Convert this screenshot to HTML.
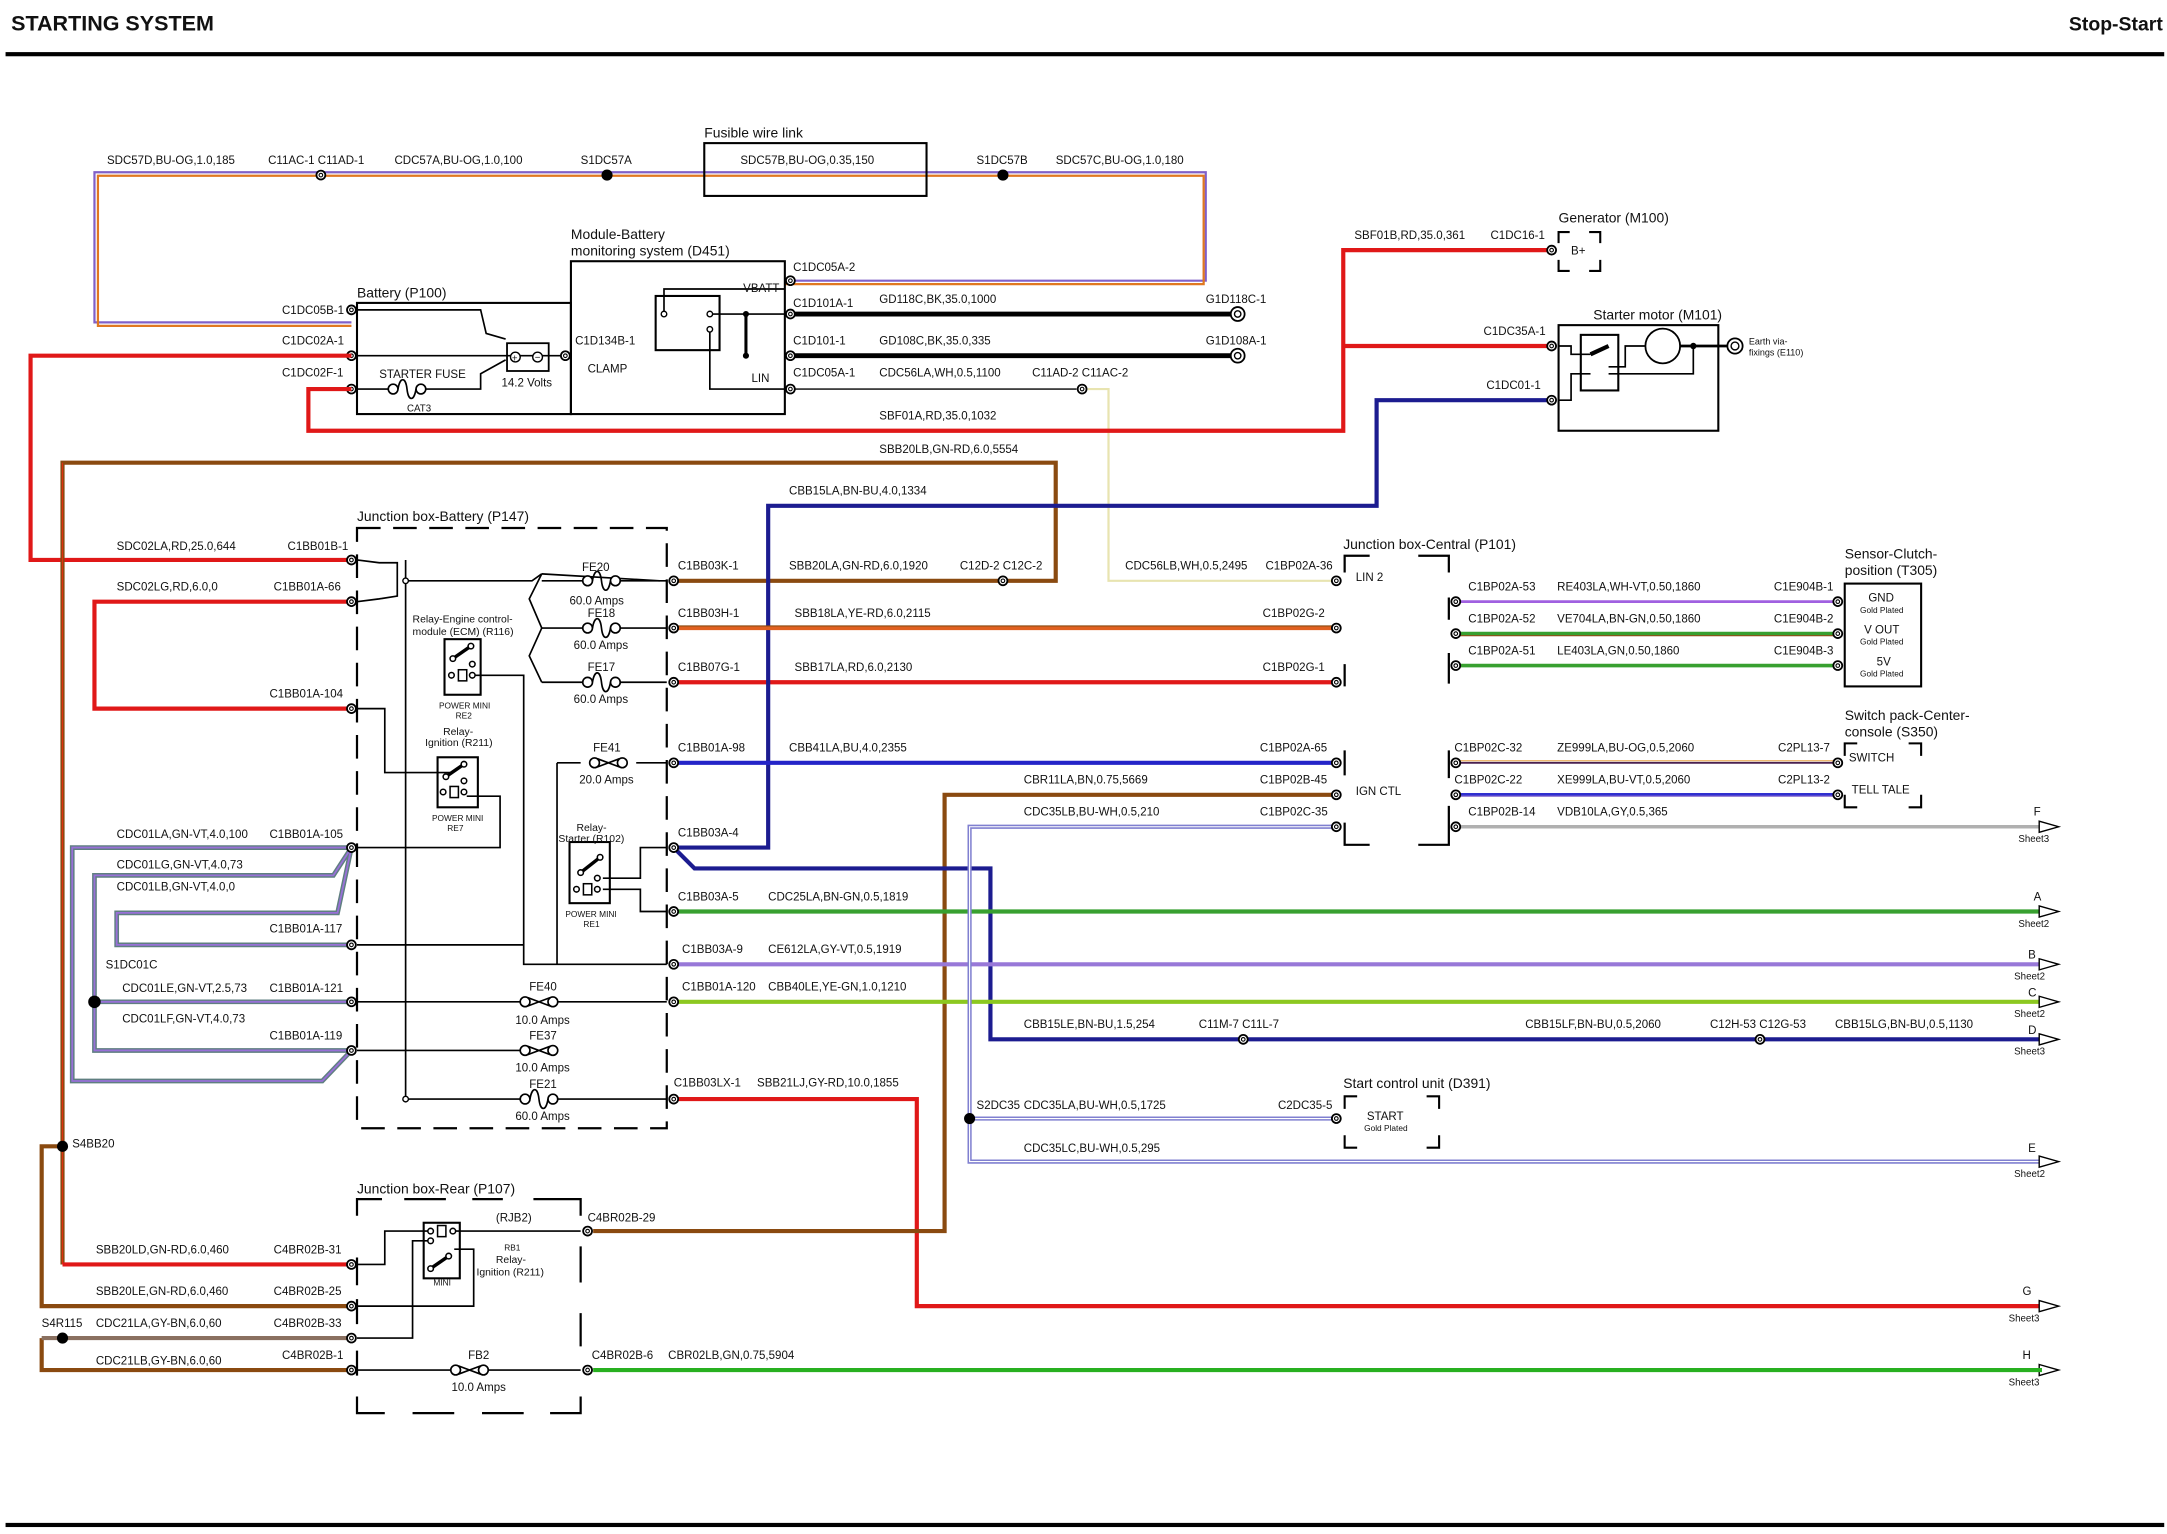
<!DOCTYPE html>
<html><head><meta charset="utf-8"><style>
html,body{margin:0;padding:0;background:#fff}
svg{display:block}
text{font-family:"Liberation Sans",sans-serif;font-size:8.3px;fill:#111}
.s{font-size:6px}
.b{font-size:10.5px}
.ttl{font-size:15.5px;font-weight:bold}
</style></head><body>
<svg width="2167" height="1534" viewBox="0 0 1560 1104" preserveAspectRatio="none" xmlns="http://www.w3.org/2000/svg">
<defs>
<symbol id="p" overflow="visible"><circle cx="0" cy="0" r="3.2" fill="#fff" stroke="#000" stroke-width="1.3"/><circle cx="0" cy="0" r="1.3" fill="none" stroke="#000" stroke-width="0.8"/></symbol>
<symbol id="f" overflow="visible"><g fill="#fff" stroke="#000" stroke-width="1.2"><circle cx="-10" cy="0" r="3.5"/><circle cx="10" cy="0" r="3.5"/><path d="M-6.5,0 C-5,-9 -1,-9 0,0 C1,9 5,9 6.5,0" fill="none"/></g></symbol>
<symbol id="ff" overflow="visible"><g fill="#fff" stroke="#000" stroke-width="1.2"><path d="M-8,-3 L8,3 M-8,3 L8,-3" fill="none"/><circle cx="-10" cy="0" r="3.5"/><circle cx="10" cy="0" r="3.5"/></g></symbol>
<symbol id="ar" overflow="visible"><path d="M0,-4 L14,0 L0,4 Z" fill="#fff" stroke="#000" stroke-width="1"/></symbol>
</defs>
<rect width="1560" height="1104" fill="#fff"/>
<text x="8" y="22" class="ttl">STARTING SYSTEM</text>
<text x="1557" y="22" class="ttl" text-anchor="end" style="font-size:14px">Stop-Start</text>
<rect x="4" y="37.5" width="1554" height="3" fill="#000"/>
<rect x="4" y="1096" width="1554" height="3" fill="#000"/>

<!-- ===== top BU-OG wire ===== -->
<g fill="none" stroke-width="1.6">
<polyline points="253,232 68,232 68,124 868,124 868,202 565,202" stroke="#8060c8"/>
<polyline points="253,234.5 70.5,234.5 70.5,126.5 866.5,126.5 866.5,204.5 565,204.5" stroke="#e07820"/>
</g>
<circle cx="437" cy="126" r="4" fill="#000"/><circle cx="722" cy="126" r="4" fill="#000"/>
<use href="#p" x="231" y="126"/>
<rect x="507" y="103" width="160" height="38" fill="none" stroke="#000" stroke-width="1.5"/>
<text x="507" y="99" class="b" style="font-size:10px">Fusible wire link</text>
<text x="77" y="118">SDC57D,BU-OG,1.0,185</text>
<text x="193" y="118">C11AC-1 C11AD-1</text>
<text x="284" y="118">CDC57A,BU-OG,1.0,100</text>
<text x="418" y="118">S1DC57A</text>
<text x="533" y="118">SDC57B,BU-OG,0.35,150</text>
<text x="703" y="118">S1DC57B</text>
<text x="760" y="118">SDC57C,BU-OG,1.0,180</text>

<!-- ===== battery & module ===== -->
<rect x="257" y="218" width="154" height="80" fill="none" stroke="#000" stroke-width="1.5"/>
<rect x="411" y="188" width="154" height="110" fill="none" stroke="#000" stroke-width="1.5"/>
<text x="257" y="214" class="b" style="font-size:10px">Battery (P100)</text>
<text x="411" y="172" class="b" style="font-size:10px">Module-Battery</text>
<text x="411" y="184" class="b" style="font-size:10px">monitoring system (D451)</text>
<text x="203" y="226">C1DC05B-1</text>
<text x="203" y="248">C1DC02A-1</text>
<text x="203" y="271">C1DC02F-1</text>
<g fill="none" stroke="#000" stroke-width="1.2">
<polyline points="257,223 346,223 350,240 364,244"/>
<line x1="257" y1="256" x2="411" y2="256"/>
<polyline points="257,280 283,280"/><polyline points="303,280 346,280 346,269 364,259"/>
<rect x="365" y="247" width="30" height="20" stroke-width="1.3"/>
<rect x="472" y="213" width="46" height="39" stroke-width="1.5"/>
<polyline points="478,226 478,208 565,208"/>
<polyline points="511,226 565,226"/>
<polyline points="511,237 511,280 565,280"/>
<line x1="537" y1="226" x2="537" y2="256" stroke-width="2.2"/>
</g>
<circle cx="371" cy="257" r="3.5" fill="#fff" stroke="#000"/><circle cx="387" cy="257" r="3.5" fill="#fff" stroke="#000"/>
<text x="368.5" y="260" style="font-size:7px">+</text><text x="385" y="259.5" style="font-size:7px">−</text>
<circle cx="478" cy="226" r="2" fill="#fff" stroke="#000"/><circle cx="511" cy="226" r="2" fill="#fff" stroke="#000"/><circle cx="511" cy="237" r="2" fill="#fff" stroke="#000"/>
<circle cx="537" cy="226" r="2.2" fill="#000"/><circle cx="537" cy="256" r="2.2" fill="#000"/>
<use href="#f" x="293" y="280"/>
<text x="273" y="272">STARTER FUSE</text>
<text x="293" y="296" class="s" style="font-size:7px">CAT3</text>
<text x="361" y="278">14.2 Volts</text>
<text x="414" y="248">C1D134B-1</text>
<text x="423" y="268">CLAMP</text>
<text x="535" y="210">VBATT</text>
<text x="541" y="275">LIN</text>
<use href="#p" x="253" y="223"/><use href="#p" x="253" y="256"/><use href="#p" x="253" y="280"/><use href="#p" x="407" y="256"/>
<text x="571" y="195">C1DC05A-2</text>
<text x="571" y="221">C1D101A-1</text>
<text x="571" y="248">C1D101-1</text>
<text x="571" y="271">C1DC05A-1</text>
<text x="633" y="218">GD118C,BK,35.0,1000</text>
<text x="633" y="248">GD108C,BK,35.0,335</text>
<text x="633" y="271">CDC56LA,WH,0.5,1100</text>
<text x="743" y="271">C11AD-2 C11AC-2</text>
<text x="868" y="218">G1D118C-1</text>
<text x="868" y="248">G1D108A-1</text>
<line x1="565" y1="226" x2="886" y2="226" stroke="#000" stroke-width="3.5"/>
<line x1="565" y1="256" x2="886" y2="256" stroke="#000" stroke-width="3.5"/>
<circle cx="891" cy="226" r="5" fill="#fff" stroke="#000" stroke-width="1.3"/><circle cx="891" cy="226" r="2.3" fill="none" stroke="#000"/>
<circle cx="891" cy="256" r="5" fill="#fff" stroke="#000" stroke-width="1.3"/><circle cx="891" cy="256" r="2.3" fill="none" stroke="#000"/>
<line x1="565" y1="280" x2="775" y2="280" stroke="#000" stroke-width="1"/>
<use href="#p" x="779" y="280"/>
<polyline points="783,280 798,280 798,418 962,418" fill="none" stroke="#e8e4b0" stroke-width="1.6"/>
<use href="#p" x="569" y="202"/><use href="#p" x="569" y="226"/><use href="#p" x="569" y="256"/><use href="#p" x="569" y="280"/>
<text x="633" y="302">SBF01A,RD,35.0,1032</text>
<text x="633" y="326">SBB20LB,GN-RD,6.0,5554</text>

<!-- red wires top -->
<g fill="none" stroke="#e01818" stroke-width="3">
<polyline points="253,256 22,256 22,403 253,403"/>
<polyline points="253,280 222,280 222,310 967,310 967,180 1117,180"/>
<polyline points="967,249 1117,249"/>
<polyline points="253,433 68,433 68,510 253,510"/>
<polyline points="485,491 962,491"/>
<polyline points="485,791 660,791 660,940 1470,940"/>
</g>
<!-- brown -->
<g fill="none" stroke="#8a4a10" stroke-width="3">
<polyline points="45,910 45,333 760,333 760,418 485,418"/>
<polyline points="45,825 30,825 30,940 253,940"/>
<polyline points="253,986 30,986 30,963"/>
<polyline points="427,886 680,886 680,572 962,572"/>
</g>
<line x1="45" y1="333" x2="45" y2="910" stroke="#e03010" stroke-width="0.8"/>
<polyline points="45,910 253,910" fill="none" stroke="#e01818" stroke-width="3"/>
<polyline points="30,963 253,963" fill="none" stroke="#8a7060" stroke-width="3"/>
<circle cx="45" cy="825" r="4" fill="#000"/><circle cx="45" cy="963" r="4" fill="#000"/>
<!-- dark blue CBB15 -->
<g fill="none" stroke="#1c1c90" stroke-width="3">
<polyline points="485,610 553,610 553,364 991,364 991,288 1117,288"/>
<polyline points="485,610 500,625 713,625 713,748 1470,748"/>
</g>
<text x="568" y="356">CBB15LA,BN-BU,4.0,1334</text>

<!-- generator / starter -->
<text x="975" y="172">SBF01B,RD,35.0,361</text>
<text x="1073" y="172">C1DC16-1</text>
<text x="1068" y="241">C1DC35A-1</text>
<text x="1070" y="280">C1DC01-1</text>
<use href="#p" x="1117" y="180"/><use href="#p" x="1117" y="249"/><use href="#p" x="1117" y="288"/>
<path d="M1122,175 v-8 h8 M1144,167 h8 v8 M1152,187 v8 h-8 M1130,195 h-8 v-8" fill="none" stroke="#000" stroke-width="1.5"/>
<text x="1131" y="183">B+</text>
<text x="1122" y="160" class="b" style="font-size:10px">Generator (M100)</text>
<text x="1147" y="230" class="b" style="font-size:10px">Starter motor (M101)</text>
<rect x="1122" y="234" width="115" height="76" fill="none" stroke="#000" stroke-width="1.5"/>
<rect x="1138" y="241" width="27" height="40" fill="none" stroke="#000" stroke-width="1.5"/>
<g fill="none" stroke="#000" stroke-width="1.2">
<polyline points="1122,249 1131,249 1131,255 1145,255"/>
<polyline points="1122,288 1131,288 1131,269 1145,269"/>
<polyline points="1158,264 1170,264 1170,249 1184,249"/>
<polyline points="1158,269 1219,269 1219,249"/>
<line x1="1209" y1="249" x2="1243" y2="249" stroke-width="2"/>
<line x1="1145" y1="255" x2="1158" y2="249" stroke-width="3"/>
<circle cx="1197" cy="249" r="12.5" stroke-width="1.3"/>
</g>
<circle cx="1219" cy="249" r="2.3" fill="#000"/>
<circle cx="1249" cy="249" r="5.5" fill="#fff" stroke="#000" stroke-width="1.3"/><circle cx="1249" cy="249" r="2.8" fill="none" stroke="#000"/>
<text x="1259" y="248" class="s" style="font-size:6.5px">Earth via-</text>
<text x="1259" y="256" class="s" style="font-size:6.5px">fixings (E110)</text>

<!-- ===== Junction box battery ===== -->
<rect x="257" y="380" width="223" height="432" fill="none" stroke="#000" stroke-width="1.6" stroke-dasharray="17,9"/>
<text x="257" y="375" class="b" style="font-size:10px">Junction box-Battery (P147)</text>
<text x="84" y="396">SDC02LA,RD,25.0,644</text><text x="207" y="396">C1BB01B-1</text>
<text x="84" y="425">SDC02LG,RD,6.0,0</text><text x="197" y="425">C1BB01A-66</text>
<text x="194" y="502">C1BB01A-104</text>
<text x="84" y="603">CDC01LA,GN-VT,4.0,100</text><text x="194" y="603">C1BB01A-105</text>
<text x="84" y="625">CDC01LG,GN-VT,4.0,73</text>
<text x="84" y="641">CDC01LB,GN-VT,4.0,0</text>
<text x="194" y="671">C1BB01A-117</text>
<text x="76" y="697">S1DC01C</text>
<text x="88" y="714">CDC01LE,GN-VT,2.5,73</text><text x="194" y="714">C1BB01A-121</text>
<text x="88" y="736">CDC01LF,GN-VT,4.0,73</text>
<text x="194" y="748">C1BB01A-119</text>
<text x="52" y="826">S4BB20</text>
<!-- GN-VT loops -->
<g fill="none" stroke-linejoin="miter">
<g stroke="#5f7f80" stroke-width="3.4">
<polyline points="253,610 52,610 52,778 232,778 253,756"/>
<polyline points="253,610 240,630 68,630 68,756 253,756"/>
<polyline points="253,610 243,657 84,657 84,680 253,680"/>
<line x1="68" y1="721" x2="253" y2="721"/>
</g>
<g stroke="#9870d8" stroke-width="1.3">
<polyline points="253,610 52,610 52,778 232,778 253,756"/>
<polyline points="253,610 240,630 68,630 68,756 253,756"/>
<polyline points="253,610 243,657 84,657 84,680 253,680"/>
<line x1="68" y1="721" x2="253" y2="721"/>
</g>
</g>
<circle cx="68" cy="721" r="4.5" fill="#000"/>
<!-- left pins -->
<use href="#p" x="253" y="403"/><use href="#p" x="253" y="433"/><use href="#p" x="253" y="510"/><use href="#p" x="253" y="610"/><use href="#p" x="253" y="680"/><use href="#p" x="253" y="721"/><use href="#p" x="253" y="756"/>
<!-- internals -->
<g fill="none" stroke="#000" stroke-width="1.2">
<polyline points="257,403 273,405 286,405 286,429 273,431 257,433"/>
<line x1="292" y1="403" x2="292" y2="791"/>
<polyline points="292,418 383,418 390,413"/>
<polyline points="390,413 381,431 390,452 381,472 390,491"/>
<line x1="390" y1="413" x2="475" y2="418"/>
<line x1="390" y1="418" x2="423" y2="418"/><line x1="443" y1="418" x2="480" y2="418"/>
<line x1="390" y1="452" x2="423" y2="452"/><line x1="443" y1="452" x2="480" y2="452"/>
<line x1="390" y1="491" x2="423" y2="491"/><line x1="443" y1="491" x2="480" y2="491"/>
<rect x="320" y="460" width="26" height="40" stroke-width="1.5"/>
<polyline points="340,486 377,486 377,694 480,694"/>
<polyline points="257,510 277,510 277,556 326,556"/>
<rect x="315" y="545" width="29" height="36" stroke-width="1.5"/>
<polyline points="336,573 360,573 360,610 257,610"/>
<line x1="257" y1="680" x2="480" y2="680" stroke="none"/>
<polyline points="257,680 377,680"/>
<line x1="257" y1="721" x2="378" y2="721"/><line x1="398" y1="721" x2="480" y2="721"/>
<polyline points="257,756 378,756"/><line x1="398" y1="756" x2="480" y2="756" stroke="none"/>
<line x1="292" y1="791" x2="378" y2="791"/><line x1="398" y1="791" x2="480" y2="791"/>
<polyline points="401,549 401,792" stroke="none"/>
<polyline points="408,549 401,549 401,720" stroke="none"/>
<line x1="401" y1="549" x2="418" y2="549"/><line x1="458" y1="549" x2="480" y2="549"/>
<polyline points="401,549 401,694" stroke="none"/>
<rect x="410" y="606" width="29" height="44" stroke-width="1.5"/>
<polyline points="434,632 461,632 461,610 480,610"/>
<polyline points="434,640 461,640 461,656 480,656"/>
</g>
<line x1="401" y1="549" x2="401" y2="694" stroke="#000" stroke-width="1.2"/>
<circle cx="292" cy="418" r="2" fill="#fff" stroke="#000"/>
<circle cx="292" cy="791" r="2" fill="#fff" stroke="#000"/>
<!-- relay internals -->
<g stroke="#000" fill="#fff" stroke-width="1.1">
<line x1="326" y1="474" x2="339" y2="465" stroke-width="2.5"/><circle cx="326" cy="474" r="2"/><circle cx="339" cy="465" r="2"/>
<rect x="330" y="482" width="6" height="8"/><circle cx="325" cy="486" r="2"/><circle cx="340" cy="486" r="2"/><circle cx="340" cy="478" r="2"/>
<line x1="321" y1="559" x2="334" y2="550" stroke-width="2.5"/><circle cx="321" cy="559" r="2"/><circle cx="334" cy="550" r="2"/>
<rect x="324" y="566" width="6" height="8"/><circle cx="319" cy="570" r="2"/><circle cx="334" cy="570" r="2"/><circle cx="334" cy="562" r="2"/>
<line x1="418" y1="628" x2="432" y2="617" stroke-width="2.5"/><circle cx="418" cy="628" r="2"/><circle cx="432" cy="617" r="2"/>
<rect x="420" y="636" width="6" height="8"/><circle cx="415" cy="640" r="2"/><circle cx="430" cy="640" r="2"/><circle cx="430" cy="632" r="2"/>
</g>
<use href="#f" x="433" y="418"/><use href="#f" x="433" y="452"/><use href="#f" x="433" y="491"/>
<use href="#ff" x="438" y="549"/>
<use href="#ff" x="388" y="721"/><use href="#ff" x="388" y="756"/><use href="#f" x="388" y="791"/>
<text x="419" y="411">FE20</text><text x="410" y="435">60.0 Amps</text>
<text x="423" y="444">FE18</text><text x="413" y="467">60.0 Amps</text>
<text x="423" y="483">FE17</text><text x="413" y="506">60.0 Amps</text>
<text x="427" y="541">FE41</text><text x="417" y="564">20.0 Amps</text>
<text x="381" y="713">FE40</text><text x="371" y="737">10.0 Amps</text>
<text x="381" y="748">FE37</text><text x="371" y="771">10.0 Amps</text>
<text x="381" y="783">FE21</text><text x="371" y="806">60.0 Amps</text>
<text x="297" y="448" style="font-size:7.5px">Relay-Engine control-</text>
<text x="297" y="457" style="font-size:7.5px">module (ECM) (R116)</text>
<text x="316" y="510" class="s">POWER MINI</text><text x="328" y="517" class="s">RE2</text>
<text x="319" y="529" style="font-size:7.5px">Relay-</text><text x="306" y="537" style="font-size:7.5px">Ignition (R211)</text>
<text x="311" y="591" class="s">POWER MINI</text><text x="322" y="598" class="s">RE7</text>
<text x="415" y="598" style="font-size:7.5px">Relay-</text><text x="402" y="606" style="font-size:7.5px">Starter (R102)</text>
<text x="407" y="660" class="s">POWER MINI</text><text x="420" y="667" class="s">RE1</text>

<!-- right-side wires from JB battery -->
<g fill="none" stroke-width="3">
<line x1="485" y1="452" x2="962" y2="452" stroke="#e06020"/>
<line x1="485" y1="450.5" x2="962" y2="450.5" stroke="#8a4a10" stroke-width="0.8"/>
<line x1="485" y1="549" x2="962" y2="549" stroke="#2424c8"/>
<line x1="485" y1="656" x2="1470" y2="656" stroke="#38a030"/>
<line x1="485" y1="694" x2="1470" y2="694" stroke="#9878d8"/>
<line x1="485" y1="721" x2="1470" y2="721" stroke="#8cc820"/>
</g>
<use href="#p" x="485" y="418"/><use href="#p" x="485" y="452"/><use href="#p" x="485" y="491"/><use href="#p" x="485" y="549"/><use href="#p" x="485" y="610"/><use href="#p" x="485" y="656"/><use href="#p" x="485" y="694"/><use href="#p" x="485" y="721"/><use href="#p" x="485" y="791"/>
<use href="#p" x="722" y="418"/>
<text x="488" y="410">C1BB03K-1</text><text x="568" y="410">SBB20LA,GN-RD,6.0,1920</text><text x="691" y="410">C12D-2 C12C-2</text>
<text x="488" y="444">C1BB03H-1</text><text x="572" y="444">SBB18LA,YE-RD,6.0,2115</text>
<text x="488" y="483">C1BB07G-1</text><text x="572" y="483">SBB17LA,RD,6.0,2130</text>
<text x="488" y="541">C1BB01A-98</text><text x="568" y="541">CBB41LA,BU,4.0,2355</text>
<text x="488" y="602">C1BB03A-4</text>
<text x="488" y="648">C1BB03A-5</text><text x="553" y="648">CDC25LA,BN-GN,0.5,1819</text>
<text x="491" y="686">C1BB03A-9</text><text x="553" y="686">CE612LA,GY-VT,0.5,1919</text>
<text x="491" y="713">C1BB01A-120</text><text x="553" y="713">CBB40LE,YE-GN,1.0,1210</text>
<text x="485" y="782">C1BB03LX-1</text><text x="545" y="782">SBB21LJ,GY-RD,10.0,1855</text>
<text x="810" y="410">CDC56LB,WH,0.5,2495</text><text x="911" y="410">C1BP02A-36</text>
<text x="909" y="444">C1BP02G-2</text>
<text x="909" y="483">C1BP02G-1</text>
<text x="907" y="541">C1BP02A-65</text>
<text x="737" y="564">CBR11LA,BN,0.75,5669</text><text x="907" y="564">C1BP02B-45</text>
<text x="737" y="587">CDC35LB,BU-WH,0.5,210</text><text x="907" y="587">C1BP02C-35</text>
<text x="737" y="740">CBB15LE,BN-BU,1.5,254</text><text x="863" y="740">C11M-7 C11L-7</text>
<text x="1098" y="740">CBB15LF,BN-BU,0.5,2060</text><text x="1231" y="740">C12H-53 C12G-53</text>
<text x="1321" y="740">CBB15LG,BN-BU,0.5,1130</text>
<use href="#p" x="895" y="748"/><use href="#p" x="1267" y="748"/>

<!-- BU-WH -->
<g fill="none">
<polyline points="962,595 698,595 698,836 1470,836" stroke="#8080d0" stroke-width="3"/>
<polyline points="962,595 698,595 698,836 1470,836" stroke="#fff" stroke-width="0.8"/>
<polyline points="698,805 962,805" stroke="#8080d0" stroke-width="3"/>
<polyline points="698,805 962,805" stroke="#fff" stroke-width="0.8"/>
</g>
<circle cx="698" cy="805" r="4" fill="#000"/>
<text x="703" y="798">S2DC35</text><text x="737" y="798">CDC35LA,BU-WH,0.5,1725</text><text x="920" y="798">C2DC35-5</text>
<text x="737" y="829">CDC35LC,BU-WH,0.5,295</text>
<path d="M968,798 v-9 h9 M1027,789 h9 v9 M1036,817 v9 h-9 M977,826 h-9 v-9" fill="none" stroke="#000" stroke-width="1.5"/>
<text x="984" y="806">START</text><text x="982" y="814" class="s">Gold Plated</text>
<text x="967" y="783" class="b" style="font-size:10px">Start control unit (D391)</text>
<use href="#p" x="962" y="805"/>

<!-- ===== Junction box central ===== -->
<path d="M968,412 v-12 h18 M1021,400 h22 v12 M1043,430 v16 M1043,470 v22 M968,478 v16 M968,540 v18 M1043,540 v20 M1043,580 v28 h-22 M986,608 h-18 v-16" fill="none" stroke="#000" stroke-width="1.6"/>
<text x="967" y="395" class="b" style="font-size:10px">Junction box-Central (P101)</text>
<text x="976" y="418">LIN 2</text><text x="976" y="572">IGN CTL</text>
<use href="#p" x="962" y="418"/><use href="#p" x="962" y="452"/><use href="#p" x="962" y="491"/><use href="#p" x="962" y="549"/><use href="#p" x="962" y="572"/><use href="#p" x="962" y="595"/>
<g fill="none" stroke-width="2.6">
<line x1="1048" y1="433" x2="1323" y2="433" stroke="#a060e0" stroke-width="2"/>
<line x1="1048" y1="456" x2="1323" y2="456" stroke="#38a030"/>
<line x1="1048" y1="457.5" x2="1323" y2="457.5" stroke="#8a4a10" stroke-width="0.8"/>
<line x1="1048" y1="479" x2="1323" y2="479" stroke="#38a030"/>
<line x1="1048" y1="549" x2="1323" y2="549" stroke="#4a2050" stroke-width="1.4"/>
<line x1="1048" y1="547.5" x2="1323" y2="547.5" stroke="#e8a040" stroke-width="0.8"/>
<line x1="1048" y1="572" x2="1323" y2="572" stroke="#3030d0"/>
<line x1="1048" y1="573" x2="1323" y2="573" stroke="#9070d0" stroke-width="0.8"/>
<line x1="1048" y1="595" x2="1470" y2="595" stroke="#b0b0b0"/>
</g>
<use href="#p" x="1048" y="433"/><use href="#p" x="1048" y="456"/><use href="#p" x="1048" y="479"/><use href="#p" x="1048" y="549"/><use href="#p" x="1048" y="572"/><use href="#p" x="1048" y="595"/>
<use href="#p" x="1323" y="433"/><use href="#p" x="1323" y="456"/><use href="#p" x="1323" y="479"/><use href="#p" x="1323" y="549"/><use href="#p" x="1323" y="572"/>
<text x="1057" y="425">C1BP02A-53</text><text x="1121" y="425">RE403LA,WH-VT,0.50,1860</text><text x="1277" y="425">C1E904B-1</text>
<text x="1057" y="448">C1BP02A-52</text><text x="1121" y="448">VE704LA,BN-GN,0.50,1860</text><text x="1277" y="448">C1E904B-2</text>
<text x="1057" y="471">C1BP02A-51</text><text x="1121" y="471">LE403LA,GN,0.50,1860</text><text x="1277" y="471">C1E904B-3</text>
<text x="1047" y="541">C1BP02C-32</text><text x="1121" y="541">ZE999LA,BU-OG,0.5,2060</text><text x="1280" y="541">C2PL13-7</text>
<text x="1047" y="564">C1BP02C-22</text><text x="1121" y="564">XE999LA,BU-VT,0.5,2060</text><text x="1280" y="564">C2PL13-2</text>
<text x="1057" y="587">C1BP02B-14</text><text x="1121" y="587">VDB10LA,GY,0.5,365</text>
<rect x="1328" y="420" width="55" height="74" fill="none" stroke="#000" stroke-width="1.5"/>
<text x="1345" y="433">GND</text><text x="1339" y="441" class="s">Gold Plated</text>
<text x="1342" y="456">V OUT</text><text x="1339" y="464" class="s">Gold Plated</text>
<text x="1351" y="479">5V</text><text x="1339" y="487" class="s">Gold Plated</text>
<text x="1328" y="402" class="b" style="font-size:10px">Sensor-Clutch-</text>
<text x="1328" y="414" class="b" style="font-size:10px">position (T305)</text>
<text x="1328" y="518" class="b" style="font-size:10px">Switch pack-Center-</text>
<text x="1328" y="530" class="b" style="font-size:10px">console (S350)</text>
<path d="M1328,544 v-9 h9 M1374,535 h9 v9 M1383,572 v9 h-9 M1337,581 h-9 v-9" fill="none" stroke="#000" stroke-width="1.5"/>
<text x="1331" y="548">SWITCH</text><text x="1333" y="571">TELL TALE</text>

<!-- arrows -->
<use href="#ar" x="1468" y="595"/><text x="1464" y="587">F</text><text x="1453" y="606" class="s" style="font-size:7px">Sheet3</text>
<use href="#ar" x="1468" y="656"/><text x="1464" y="648">A</text><text x="1453" y="667" class="s" style="font-size:7px">Sheet2</text>
<use href="#ar" x="1468" y="694"/><text x="1460" y="690">B</text><text x="1450" y="705" class="s" style="font-size:7px">Sheet2</text>
<use href="#ar" x="1468" y="721"/><text x="1460" y="717">C</text><text x="1450" y="732" class="s" style="font-size:7px">Sheet2</text>
<use href="#ar" x="1468" y="748"/><text x="1460" y="744">D</text><text x="1450" y="759" class="s" style="font-size:7px">Sheet3</text>
<use href="#ar" x="1468" y="836"/><text x="1460" y="829">E</text><text x="1450" y="847" class="s" style="font-size:7px">Sheet2</text>
<use href="#ar" x="1468" y="940"/><text x="1456" y="932">G</text><text x="1446" y="951" class="s" style="font-size:7px">Sheet3</text>
<use href="#ar" x="1468" y="986"/><text x="1456" y="978">H</text><text x="1446" y="997" class="s" style="font-size:7px">Sheet3</text>

<!-- ===== Junction box rear ===== -->
<path d="M257,875 v-12 h18 M291,863 h30 M340,863 h22 M384,863 h34 v12 M418,897 v26 M418,945 v24 M418,1005 v12 h-22 M377,1017 h-30 M327,1017 h-30 M277,1017 h-20 v-12 M257,990 v-18 M257,953 v-18 M257,925 v-20" fill="none" stroke="#000" stroke-width="1.6"/>
<text x="257" y="859" class="b" style="font-size:10px">Junction box-Rear (P107)</text>
<text x="357" y="879">(RJB2)</text>
<text x="363" y="900" class="s">RB1</text>
<text x="357" y="909" style="font-size:7.5px">Relay-</text><text x="343" y="918" style="font-size:7.5px">Ignition (R211)</text>
<text x="312" y="925" class="s">MINI</text>
<rect x="305" y="880" width="26" height="40" fill="none" stroke="#000" stroke-width="1.5"/>
<g fill="none" stroke="#000" stroke-width="1.2">
<polyline points="257,910 277,910 277,886 309,886"/>
<polyline points="327,886 418,886"/>
<polyline points="309,893 297,893 297,963 257,963"/>
<polyline points="327,899 341,899 341,940 257,940"/>
<line x1="257" y1="986" x2="328" y2="986"/><line x1="348" y1="986" x2="418" y2="986"/>
</g>
<g stroke="#000" fill="#fff" stroke-width="1.1">
<line x1="310" y1="913" x2="323" y2="904" stroke-width="2.5"/><circle cx="310" cy="913" r="2"/><circle cx="323" cy="904" r="2"/>
<rect x="315" y="882" width="6" height="8"/><circle cx="310" cy="886" r="2"/><circle cx="326" cy="886" r="2"/><circle cx="310" cy="893" r="2"/>
</g>
<use href="#ff" x="338" y="986"/>
<text x="337" y="978">FB2</text><text x="325" y="1001">10.0 Amps</text>
<use href="#p" x="253" y="910"/><use href="#p" x="253" y="940"/><use href="#p" x="253" y="963"/><use href="#p" x="253" y="986"/>
<use href="#p" x="423" y="886"/><use href="#p" x="423" y="986"/>
<line x1="427" y1="986" x2="1470" y2="986" stroke="#28b020" stroke-width="3"/>
<text x="69" y="902">SBB20LD,GN-RD,6.0,460</text><text x="197" y="902">C4BR02B-31</text>
<text x="69" y="932">SBB20LE,GN-RD,6.0,460</text><text x="197" y="932">C4BR02B-25</text>
<text x="30" y="955">S4R115</text><text x="69" y="955">CDC21LA,GY-BN,6.0,60</text><text x="197" y="955">C4BR02B-33</text>
<text x="69" y="982">CDC21LB,GY-BN,6.0,60</text><text x="203" y="978">C4BR02B-1</text>
<text x="423" y="879">C4BR02B-29</text>
<text x="426" y="978">C4BR02B-6</text><text x="481" y="978">CBR02LB,GN,0.75,5904</text>
</svg>
</body></html>
